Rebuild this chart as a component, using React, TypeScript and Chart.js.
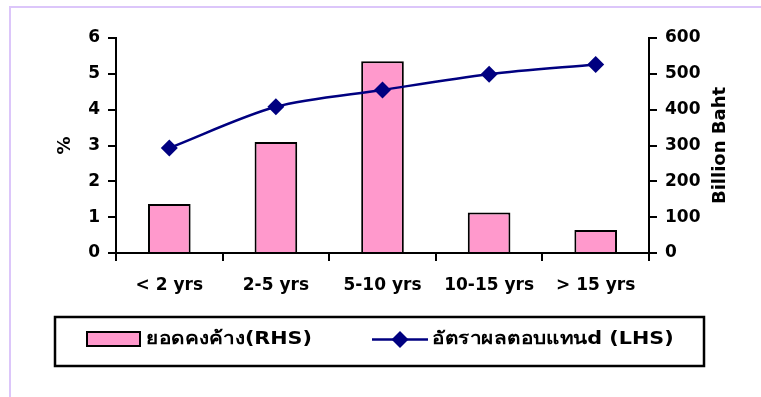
import React, { useEffect, useRef } from "react";
import { Chart, registerables } from "chart.js";

Chart.register(...registerables);

// Maturity buckets on the category axis
const categories = ["< 2 yrs", "2-5 yrs", "5-10 yrs", "10-15 yrs", "> 15 yrs"];
// Outstanding amount, billion baht (right-hand axis)
const outstanding = [137, 310, 535, 113, 64];
// Yield, percent (left-hand axis)
const yieldPct = [2.93, 4.08, 4.55, 4.99, 5.26];
// Axis tick values
const leftTicks = [0, 1, 2, 3, 4, 5, 6];
const rightTicks = [0, 100, 200, 300, 400, 500, 600];

const barLabel = "ยอดคงค้าง(RHS)";
const lineLabel = "อัตราผลตอบแทนd (LHS)";

const FONT = "'DejaVu Sans', 'Noto Sans', sans-serif";
const PINK = "#ff99cc";
const NAVY = "#000080";

// Legend text is set slightly wide
const LEGEND_STRETCH = 1.15;

function fillWide(ctx: CanvasRenderingContext2D, text: string, x: number, y: number) {
  ctx.save();
  ctx.translate(x, y);
  ctx.scale(LEGEND_STRETCH, 1);
  ctx.fillText(text, 0, 0);
  ctx.restore();
}

// Draws the right-hand axis title (reading upward) and the boxed legend
const decorPlugin = {
  id: "decor",
  afterDraw(chart: any) {
    const { ctx, chartArea } = chart;
    ctx.save();
    ctx.fillStyle = "#000";
    ctx.textBaseline = "middle";

    // right axis title
    ctx.save();
    ctx.font = `bold 18px ${FONT}`;
    ctx.translate(720, (chartArea.top + chartArea.bottom) / 2);
    ctx.rotate(-Math.PI / 2);
    ctx.textAlign = "center";
    ctx.fillText("Billion Baht", 0, 0);
    ctx.restore();

    ctx.font = `bold 18px ${FONT}`;
    // legend frame
    ctx.strokeStyle = "#000";
    ctx.lineWidth = 2.5;
    ctx.strokeRect(55, 317, 649, 49);

    const cy = 339.5;
    // bar swatch
    ctx.fillStyle = PINK;
    ctx.fillRect(87, 332, 53, 14);
    ctx.lineWidth = 2;
    ctx.strokeRect(87, 332, 53, 14);
    ctx.fillStyle = "#000";
    ctx.textAlign = "left";
    fillWide(ctx, chart.data.datasets[0].label, 146, cy);

    // line swatch
    ctx.strokeStyle = NAVY;
    ctx.lineWidth = 2.5;
    ctx.beginPath();
    ctx.moveTo(372, cy);
    ctx.lineTo(428, cy);
    ctx.stroke();
    ctx.fillStyle = NAVY;
    ctx.beginPath();
    ctx.moveTo(400, cy - 8.5);
    ctx.lineTo(408.5, cy);
    ctx.lineTo(400, cy + 8.5);
    ctx.lineTo(391.5, cy);
    ctx.closePath();
    ctx.fill();
    ctx.fillStyle = "#000";
    fillWide(ctx, chart.data.datasets[1].label, 432, cy);
    ctx.restore();
  },
};

export default function App() {
  const canvasRef = useRef<HTMLCanvasElement | null>(null);

  useEffect(() => {
    const canvas = canvasRef.current;
    if (!canvas) return;
    const tickFont = { family: FONT, size: 17, weight: "bold" as const };
    const titleFont = { family: FONT, size: 18, weight: "bold" as const };

    const chart = new Chart(canvas, {
      type: "bar",
      data: {
        labels: categories,
        datasets: [
          {
            type: "bar",
            label: barLabel,
            data: outstanding,
            yAxisID: "y1",
            backgroundColor: PINK,
            borderColor: "#000",
            borderWidth: 2,
            barPercentage: 0.4,
            categoryPercentage: 1,
            order: 2,
          },
          {
            type: "line",
            label: lineLabel,
            data: yieldPct,
            yAxisID: "y",
            borderColor: NAVY,
            backgroundColor: NAVY,
            borderWidth: 2.5,
            pointStyle: "rectRot",
            pointRadius: 8.5,
            pointBorderWidth: 0,
            pointBackgroundColor: NAVY,
            tension: 0.3,
            order: 1,
          },
        ],
      },
      options: {
        responsive: false,
        animation: false,
        devicePixelRatio: 1,
        layout: { padding: { top: 38, left: 0, right: 0, bottom: 0 } },
        plugins: {
          legend: { display: false },
          tooltip: { enabled: false },
        },
        scales: {
          x: {
            offset: true,
            grid: {
              display: true,
              offset: true,
              drawOnChartArea: false,
              drawTicks: true,
              tickLength: 8,
              color: "#000",
              lineWidth: 2,
            },
            border: { display: true, color: "#000", width: 2 },
            ticks: { color: "#000", font: tickFont, padding: 14, maxRotation: 0 },
            afterFit: (scale: any) => {
              scale.height = 144;
            },
          },
          y: {
            position: "left",
            min: 0,
            max: 6,
            afterBuildTicks: (scale: any) => {
              scale.ticks = leftTicks.map((v) => ({ value: v }));
            },
            grid: {
              drawOnChartArea: false,
              drawTicks: true,
              tickLength: 8,
              color: "#000",
              lineWidth: 2,
            },
            border: { display: true, color: "#000", width: 2 },
            ticks: { color: "#000", font: tickFont, padding: 8 },
            title: {
              display: true,
              text: "%",
              color: "#000",
              font: titleFont,
              padding: { top: 55, bottom: 0 },
            },
            afterFit: (scale: any) => {
              scale.width = 116;
            },
          },
          y1: {
            position: "right",
            min: 0,
            max: 600,
            afterBuildTicks: (scale: any) => {
              scale.ticks = rightTicks.map((v) => ({ value: v }));
            },
            grid: {
              drawOnChartArea: false,
              drawTicks: true,
              tickLength: 8,
              color: "#000",
              lineWidth: 2,
            },
            border: { display: true, color: "#000", width: 2 },
            ticks: { color: "#000", font: tickFont, padding: 8 },
            afterFit: (scale: any) => {
              scale.width = 112;
            },
          },
        },
      },
      plugins: [decorPlugin],
    });

    return () => chart.destroy();
  }, []);

  return (
    <div
      style={{
        position: "fixed",
        left: 0,
        top: 0,
        width: 761,
        height: 397,
        overflow: "hidden",
        background: "#fff",
      }}
    >
      <div
        style={{
          position: "absolute",
          left: 9,
          top: 6,
          width: 800,
          height: 420,
          border: "2px solid #dcc6fa",
          boxSizing: "border-box",
        }}
      />
      <canvas
        ref={canvasRef}
        width={761}
        height={397}
        style={{ position: "absolute", left: 0, top: 0, width: 761, height: 397 }}
      />
    </div>
  );
}
